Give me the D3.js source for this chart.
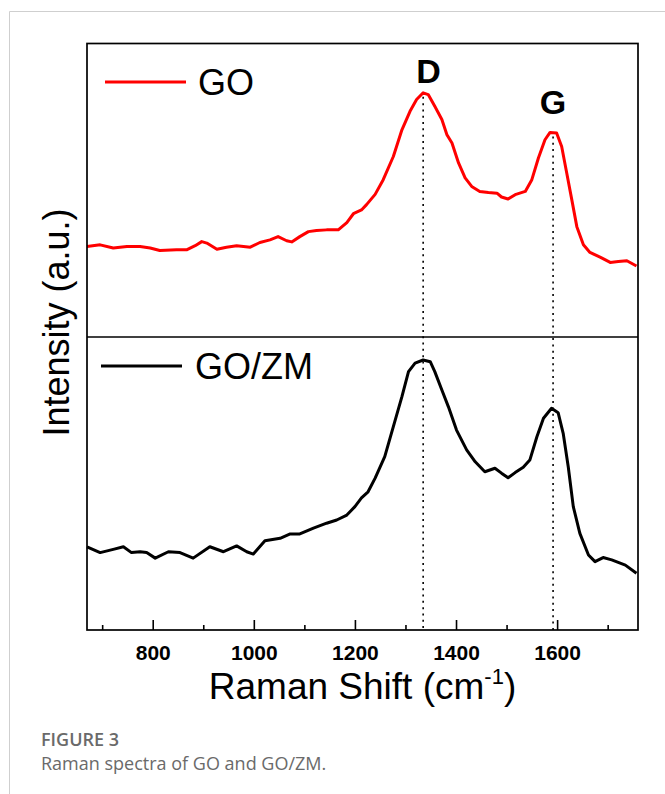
<!DOCTYPE html>
<html>
<head>
<meta charset="utf-8">
<script src="https://cdn.jsdelivr.net/npm/d3@7"></script>
<style>
  html, body { margin: 0; padding: 0; background: #fff; }
  svg { display: block; }
</style>
</head>
<body>
<svg id="chart" width="665" height="794"></svg>
<script>
// ---- data (Raman shift in cm^-1, intensity in a.u. 0-100 per panel) ----
const goShift = [670,696,722,749,775,795,814,847,867,884,897,907,927,946,966,993,1012,1032,1048,1065,1075,1091,1108,1124,1144,1167,1184,1197,1213,1223,1240,1256,1276,1293,1309,1322,1335,1345,1358,1372,1382,1392,1405,1418,1431,1447,1464,1481,1490,1503,1517,1537,1550,1563,1576,1586,1599,1609,1619,1629,1639,1652,1665,1685,1705,1721,1738,1757];
const goInt   = [30.8,31.4,30.3,30.8,30.8,30.3,29.5,29.7,29.7,31.1,32.5,32.0,29.9,30.6,31.1,30.6,32.2,33.1,34.2,32.8,32.4,34.2,35.9,36.3,36.5,36.5,39.0,42.0,43.3,45.1,48.6,53.6,61.5,70.6,76.9,80.9,83.2,82.6,78.6,74.1,68.9,66.1,59.3,54.2,51.3,49.6,49.2,49.0,47.7,47.0,48.5,49.6,53.6,61.0,67.2,69.7,69.5,64.9,55.9,46.8,37.6,31.4,28.8,27.2,25.4,25.7,26.0,24.2];

const gozmShift = [670,696,722,742,758,775,788,805,831,854,880,913,940,966,986,999,1022,1052,1072,1091,1118,1144,1164,1184,1200,1213,1226,1240,1259,1276,1293,1306,1319,1335,1349,1358,1372,1385,1401,1421,1438,1457,1477,1490,1503,1517,1533,1546,1560,1573,1589,1602,1612,1622,1632,1645,1662,1675,1691,1708,1735,1757];
const gozmInt   = [27.9,25.9,27.0,27.9,25.9,26.2,25.9,24.0,26.2,25.9,24.0,27.9,26.2,28.2,26.2,25.4,30.0,30.8,32.3,32.3,34.3,36.0,37.1,38.8,41.7,44.7,46.8,51.5,58.9,69.2,79.5,88.1,91.0,92.1,91.5,88.1,81.8,76.0,68.0,61.2,57.1,53.7,54.9,53.2,51.6,53.4,55.2,57.7,65.7,72.1,75.5,74.0,66.9,55.4,41.7,32.5,25.1,22.8,24.2,23.4,21.6,18.8];

const majorTicks = [800,1000,1200,1400,1600];
const minorTicks = [700,900,1100,1300,1500,1700];
const peakLabels = ["D","G"];
const peakShift  = [1335, 1592];
const peakTopInt = [82.5, 69.0];
const seriesNames = ["GO","GO/ZM"];
const seriesColors = ["#ff0000","#000000"];

// ---- layout ----
const L = 87, R = 638, T = 43.5, MID = 337, B = 630;
const svg = d3.select("#chart");
const font = "'Liberation Sans', Arial, Helvetica, sans-serif";

// card border
svg.append("path").attr("d", `M9.5,794 V11.5 H665`).attr("fill","none").attr("stroke","#cfcfcf").attr("stroke-width",1);

const x = d3.scaleLinear().domain([670, 1760]).range([L, R]);
const yTop = d3.scaleLinear().domain([0, 100]).range([MID, T]);
const yBot = d3.scaleLinear().domain([-0.7, 100]).range([B, MID]);

// dotted guide lines
peakShift.forEach((s, i) => {
  svg.append("line")
    .attr("x1", x(s)).attr("x2", x(s))
    .attr("y1", yTop(peakTopInt[i]) + 2).attr("y2", B)
    .attr("stroke", "#000").attr("stroke-width", 1.6)
    .attr("stroke-dasharray", "2,4.3");
});

// curves
const lineTop = d3.line().x((d) => x(d[0])).y((d) => yTop(d[1]));
const lineBot = d3.line().x((d) => x(d[0])).y((d) => yBot(d[1]));
svg.append("path").datum(d3.zip(goShift, goInt))
  .attr("d", lineTop).attr("fill","none").attr("stroke", seriesColors[0])
  .attr("stroke-width", 3).attr("stroke-linejoin","round");
svg.append("path").datum(d3.zip(gozmShift, gozmInt))
  .attr("d", lineBot).attr("fill","none").attr("stroke", seriesColors[1])
  .attr("stroke-width", 3).attr("stroke-linejoin","round");

// frames
svg.append("rect").attr("x", L).attr("y", T).attr("width", R-L).attr("height", B-T)
  .attr("fill","none").attr("stroke","#000").attr("stroke-width",1.7);
svg.append("line").attr("x1", L).attr("x2", R).attr("y1", MID).attr("y2", MID)
  .attr("stroke","#000").attr("stroke-width",1.7);

// bottom axis
const axisG = svg.append("g").attr("transform", `translate(0,${B})`);
axisG.call(d3.axisBottom(x).tickValues(majorTicks).tickSize(-10).tickFormat(d3.format("d")))
  .call(g => g.select(".domain").remove())
  .call(g => g.selectAll(".tick line").attr("stroke","#000").attr("stroke-width",1.6))
  .call(g => g.selectAll(".tick text").attr("font-family", font).attr("font-weight","bold")
        .attr("font-size", 21).attr("fill","#000").attr("dy","0.71em").attr("y", 15));
const minorG = svg.append("g").attr("transform", `translate(0,${B})`);
minorG.call(d3.axisBottom(x).tickValues(minorTicks).tickSize(-5).tickFormat(""))
  .call(g => g.select(".domain").remove())
  .call(g => g.selectAll(".tick line").attr("stroke","#000").attr("stroke-width",1.6));

// axis titles
const xt = svg.append("text").attr("x", (L+R)/2).attr("y", 699).attr("text-anchor","middle")
  .attr("font-family", font).attr("font-size", 37).attr("fill","#000");
xt.append("tspan").text("Raman Shift (cm");
xt.append("tspan").attr("font-size", 22).attr("dy", -15).text("-1");
xt.append("tspan").attr("dy", 15).text(")");

svg.append("text").attr("transform", `translate(69,${322.5}) rotate(-90)`).attr("text-anchor","middle")
  .attr("font-family", font).attr("font-size", 36).attr("fill","#000").text("Intensity (a.u.)");

// peak labels
const peakLabelY = [82.7, 114];
const peakLabelX = [428.5, 553];
peakLabels.forEach((t, i) => {
  svg.append("text").attr("x", peakLabelX[i]).attr("y", peakLabelY[i]).attr("text-anchor","middle")
    .attr("font-family", font).attr("font-weight","bold").attr("font-size", 34).attr("fill","#000").text(t);
});

// legends
const legends = [
  {x1: 105, x2: 186, y: 82, tx: 198, ty: 95},
  {x1: 101, x2: 182, y: 366, tx: 195, ty: 379}
];
legends.forEach((lg, i) => {
  svg.append("line").attr("x1", lg.x1).attr("x2", lg.x2).attr("y1", lg.y).attr("y2", lg.y)
    .attr("stroke", seriesColors[i]).attr("stroke-width", 3);
  svg.append("text").attr("x", lg.tx).attr("y", lg.ty).attr("font-family", font)
    .attr("font-size", 36).attr("fill","#000").text(seriesNames[i]);
});

// caption
svg.append("text").attr("x", 41).attr("y", 746).attr("font-family", "'Open Sans', 'Noto Sans', sans-serif")
  .attr("font-size", 18).attr("font-weight", 600).attr("fill","#6a6a6a").text("FIGURE 3");
svg.append("text").attr("x", 41).attr("y", 770).attr("font-family", "'Open Sans', 'Noto Sans', sans-serif")
  .attr("font-size", 18).attr("fill","#6a6a6a").text("Raman spectra of GO and GO/ZM.");
</script>
</body>
</html>
